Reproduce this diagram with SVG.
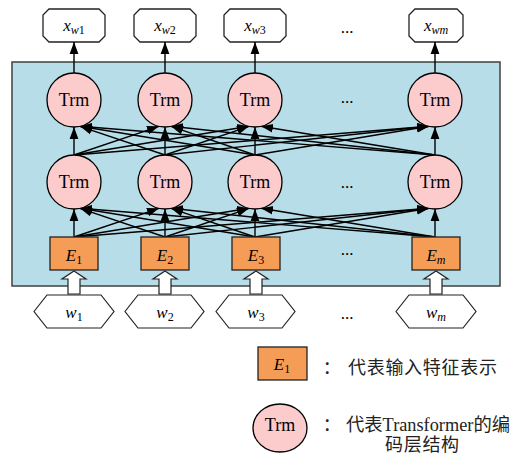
<svg xmlns="http://www.w3.org/2000/svg" width="512" height="454" viewBox="0 0 512 454">
<style>
.t{font-family:"Liberation Serif","Times New Roman",serif;fill:#000}
.cn{font-family:"Liberation Serif","Noto Sans CJK SC",serif;font-size:18px;fill:#222;letter-spacing:0.7px}
.trm{fill:#fccccc;stroke:#000;stroke-width:1.3}
.e{fill:#f59d56;stroke:#222;stroke-width:1.3}
.out{fill:#fff;stroke:#222;stroke-width:1.3}
.hex{fill:#fff;stroke:#222;stroke-width:1.2}
.blk{fill:#fff;stroke:#222;stroke-width:1.2}
.c line{stroke:#000;stroke-width:1.4;marker-end:url(#ah)}
</style>
<defs>
<marker id="ah" markerUnits="userSpaceOnUse" markerWidth="12" markerHeight="12" viewBox="0 0 12 12" refX="12" refY="6" orient="auto">
<path d="M0,1.6 L12,6 L0,10.4 z" fill="#000"/>
</marker>
</defs>
<rect id="container" x="12" y="62" width="488" height="224" fill="#b7dde8" stroke="#404040" stroke-width="1.5"/>

<g id="outputs">
<g id="xw1"><path class="out" d="M49,9 H99 L105,15 V36 L99,42 H49 L43,36 V15 Z"/><text class="t" x="74" y="31" text-anchor="middle" font-size="17"><tspan font-style="italic">x</tspan><tspan font-size="12" dy="3" font-style="italic">w</tspan><tspan font-size="12">1</tspan></text></g>
<g id="xw2"><path class="out" d="M140,9 H190 L196,15 V36 L190,42 H140 L134,36 V15 Z"/><text class="t" x="165" y="31" text-anchor="middle" font-size="17"><tspan font-style="italic">x</tspan><tspan font-size="12" dy="3" font-style="italic">w</tspan><tspan font-size="12">2</tspan></text></g>
<g id="xw3"><path class="out" d="M230,9 H280 L286,15 V36 L280,42 H230 L224,36 V15 Z"/><text class="t" x="255" y="31" text-anchor="middle" font-size="17"><tspan font-style="italic">x</tspan><tspan font-size="12" dy="3" font-style="italic">w</tspan><tspan font-size="12">3</tspan></text></g>
<g id="xwm"><path class="out" d="M415,9 H457 L463,15 V36 L457,42 H415 L409,36 V15 Z"/><text class="t" x="436" y="31" text-anchor="middle" font-size="17"><tspan font-style="italic">x</tspan><tspan font-size="12" dy="3" font-style="italic">wm</tspan></text></g>
</g>

<g id="connectors" class="c">
<line x1="74" y1="73" x2="74" y2="42"/>
<line x1="165" y1="73" x2="165" y2="42"/>
<line x1="255" y1="73" x2="255" y2="42"/>
<line x1="435" y1="73" x2="435" y2="42"/>
<line x1="74" y1="155" x2="74" y2="127"/>
<line x1="74" y1="155" x2="159" y2="126.3"/>
<line x1="74" y1="155" x2="249" y2="126.3"/>
<line x1="74" y1="155" x2="429" y2="126.3"/>
<line x1="165" y1="155" x2="80" y2="126.3"/>
<line x1="165" y1="155" x2="165" y2="127"/>
<line x1="165" y1="155" x2="249" y2="126.3"/>
<line x1="165" y1="155" x2="429" y2="126.3"/>
<line x1="255" y1="155" x2="80" y2="126.3"/>
<line x1="255" y1="155" x2="171" y2="126.3"/>
<line x1="255" y1="155" x2="255" y2="127"/>
<line x1="255" y1="155" x2="429" y2="126.3"/>
<line x1="435" y1="155" x2="80" y2="126.3"/>
<line x1="435" y1="155" x2="171" y2="126.3"/>
<line x1="435" y1="155" x2="261" y2="126.3"/>
<line x1="435" y1="155" x2="435" y2="127"/>
<line x1="74" y1="237" x2="74" y2="209"/>
<line x1="74" y1="237" x2="159" y2="208.3"/>
<line x1="74" y1="237" x2="249" y2="208.3"/>
<line x1="74" y1="237" x2="429" y2="208.3"/>
<line x1="165" y1="237" x2="80" y2="208.3"/>
<line x1="165" y1="237" x2="165" y2="209"/>
<line x1="165" y1="237" x2="249" y2="208.3"/>
<line x1="165" y1="237" x2="429" y2="208.3"/>
<line x1="255" y1="237" x2="80" y2="208.3"/>
<line x1="255" y1="237" x2="171" y2="208.3"/>
<line x1="255" y1="237" x2="255" y2="209"/>
<line x1="255" y1="237" x2="429" y2="208.3"/>
<line x1="435" y1="237" x2="80" y2="208.3"/>
<line x1="435" y1="237" x2="171" y2="208.3"/>
<line x1="435" y1="237" x2="261" y2="208.3"/>
<line x1="435" y1="237" x2="435" y2="209"/>
</g>

<g id="trm-layer1">
<g id="trm1-1"><circle class="trm" cx="74" cy="100" r="27"/><text class="t" x="74" y="106" text-anchor="middle" font-size="18">Trm</text></g>
<g id="trm1-2"><circle class="trm" cx="165" cy="100" r="27"/><text class="t" x="165" y="106" text-anchor="middle" font-size="18">Trm</text></g>
<g id="trm1-3"><circle class="trm" cx="255" cy="100" r="27"/><text class="t" x="255" y="106" text-anchor="middle" font-size="18">Trm</text></g>
<g id="trm1-m"><circle class="trm" cx="435" cy="100" r="27"/><text class="t" x="435" y="106" text-anchor="middle" font-size="18">Trm</text></g>
</g>
<g id="trm-layer2">
<g id="trm2-1"><circle class="trm" cx="74" cy="182" r="27"/><text class="t" x="74" y="188" text-anchor="middle" font-size="18">Trm</text></g>
<g id="trm2-2"><circle class="trm" cx="165" cy="182" r="27"/><text class="t" x="165" y="188" text-anchor="middle" font-size="18">Trm</text></g>
<g id="trm2-3"><circle class="trm" cx="255" cy="182" r="27"/><text class="t" x="255" y="188" text-anchor="middle" font-size="18">Trm</text></g>
<g id="trm2-m"><circle class="trm" cx="435" cy="182" r="27"/><text class="t" x="435" y="188" text-anchor="middle" font-size="18">Trm</text></g>
</g>
<g id="e-layer">
<g id="e1"><rect class="e" x="50" y="237" width="48" height="33"/><text class="t" x="74" y="261" text-anchor="middle" font-size="17"><tspan font-style="italic">E</tspan><tspan font-size="12" dy="3">1</tspan></text></g>
<g id="e2"><rect class="e" x="141" y="237" width="48" height="33"/><text class="t" x="165" y="261" text-anchor="middle" font-size="17"><tspan font-style="italic">E</tspan><tspan font-size="12" dy="3">2</tspan></text></g>
<g id="e3"><rect class="e" x="232" y="237" width="48" height="33"/><text class="t" x="256" y="261" text-anchor="middle" font-size="17"><tspan font-style="italic">E</tspan><tspan font-size="12" dy="3">3</tspan></text></g>
<g id="em"><rect class="e" x="412" y="237" width="48" height="33"/><text class="t" x="436" y="261" text-anchor="middle" font-size="17"><tspan font-style="italic">E</tspan><tspan font-size="12" dy="3" font-style="italic">m</tspan></text></g>
</g>

<g id="input-arrows">
<path class="blk" d="M74,271 L86,279 H80 V294 H68 V279 H62 Z"/>
<path class="blk" d="M165,271 L177,279 H171 V294 H159 V279 H153 Z"/>
<path class="blk" d="M256,271 L268,279 H262 V294 H250 V279 H244 Z"/>
<path class="blk" d="M436,271 L448,279 H442 V294 H430 V279 H424 Z"/>
</g>

<g id="inputs">
<g id="w1"><path class="hex" d="M34,311.5 L47,295 H101 L114,311.5 L101,328 H47 Z"/><text class="t" x="74" y="318" text-anchor="middle" font-size="17"><tspan font-style="italic">w</tspan><tspan font-size="12" dy="3">1</tspan></text></g>
<g id="w2"><path class="hex" d="M125,311.5 L138,295 H191 L204,311.5 L191,328 H138 Z"/><text class="t" x="165" y="318" text-anchor="middle" font-size="17"><tspan font-style="italic">w</tspan><tspan font-size="12" dy="3">2</tspan></text></g>
<g id="w3"><path class="hex" d="M216,311.5 L229,295 H282 L295,311.5 L282,328 H229 Z"/><text class="t" x="256" y="318" text-anchor="middle" font-size="17"><tspan font-style="italic">w</tspan><tspan font-size="12" dy="3">3</tspan></text></g>
<g id="wm"><path class="hex" d="M396,311.5 L409,295 H463 L476,311.5 L463,328 H409 Z"/><text class="t" x="436" y="318" text-anchor="middle" font-size="17"><tspan font-style="italic">w</tspan><tspan font-size="12" dy="3" font-style="italic">m</tspan></text></g>
</g>

<g id="ellipses" class="t" font-size="17">
<text x="347" y="33" text-anchor="middle">...</text>
<text x="347" y="103" text-anchor="middle">...</text>
<text x="347" y="188" text-anchor="middle">...</text>
<text x="347" y="255" text-anchor="middle">...</text>
<text x="347" y="319" text-anchor="middle">...</text>
</g>

<g id="legend">
<g id="legend-e"><rect class="e" x="258" y="347" width="49" height="33"/><text class="t" x="282" y="370" text-anchor="middle" font-size="17"><tspan font-style="italic">E</tspan><tspan font-size="12" dy="3">1</tspan></text></g>
<text class="cn" x="332" y="374" text-anchor="middle">：</text>
<text class="cn" x="348" y="374">代表输入特征表示</text>
<g id="legend-trm"><ellipse class="trm" cx="280" cy="428" rx="27" ry="24"/><text class="t" x="280" y="431" text-anchor="middle" font-size="18">Trm</text></g>
<text class="cn" x="332" y="431" text-anchor="middle">：</text>
<text class="cn" x="346" y="431" style="letter-spacing:0" textLength="164" lengthAdjust="spacingAndGlyphs">代表Transformer的编</text>
<text class="cn" x="385" y="451">码层结构</text>
</g>
</svg>
